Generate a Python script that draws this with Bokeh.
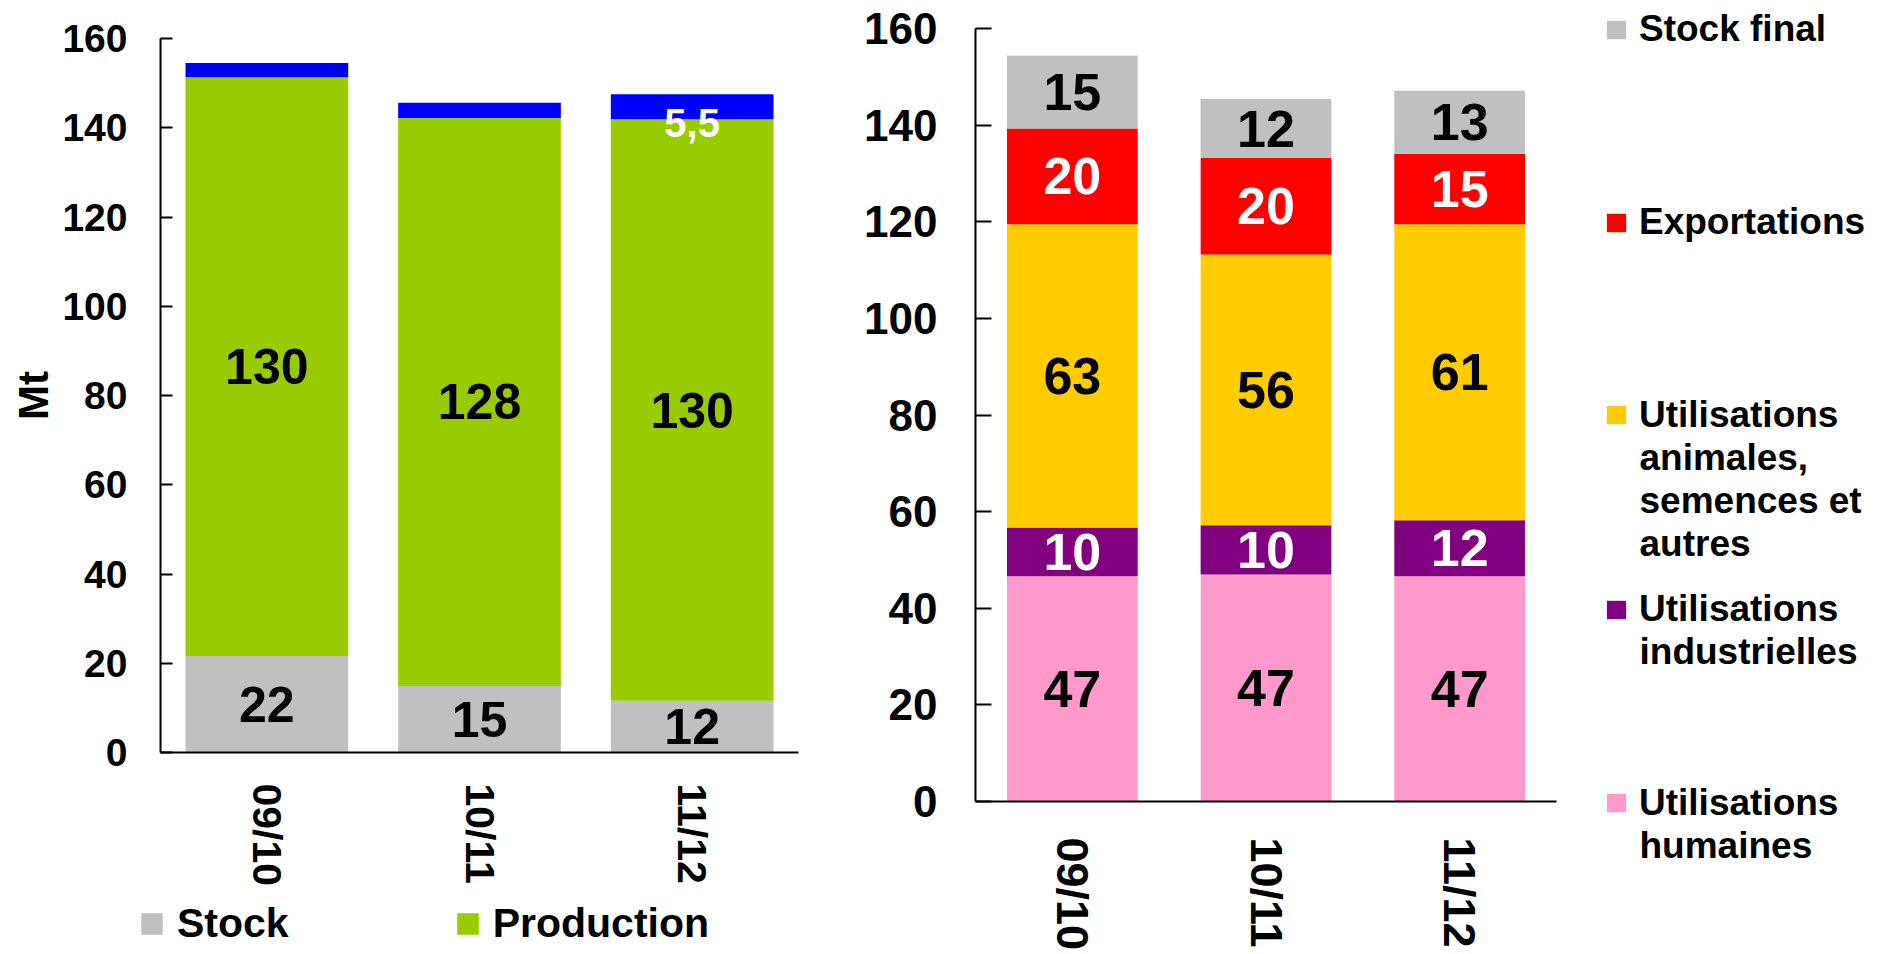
from bokeh.plotting import figure
from bokeh.models import (ColumnDataSource, Legend, LegendItem, Range1d,
                          LabelSet, Label, FixedTicker, LinearAxis)
from bokeh.core.properties import value
from bokeh.embed import file_html
from bokeh.resources import INLINE

FONT = "Liberation Sans"

# ---------------- data ----------------
categories = ["09/10", "10/11", "11/12"]
y_ticks = [0, 20, 40, 60, 80, 100, 120, 140, 160]

# left chart (ressources)
stock = [21.6, 14.9, 11.6]
production = [129.7, 127.3, 130.3]
imports = [3.2, 3.4, 5.6]
stock_labels = ["22", "15", "12"]
production_labels = ["130", "128", "130"]
imports_labels = ["", "", "5,5"]

# right chart (emplois)
humaines = [46.6, 47.0, 46.6]
industrielles = [10.1, 10.2, 11.6]
animales = [62.8, 56.0, 61.3]
exportations = [19.8, 20.0, 14.6]
stock_final = [15.1, 12.2, 13.0]
humaines_labels = ["47", "47", "47"]
industrielles_labels = ["10", "10", "12"]
animales_labels = ["63", "56", "61"]
exportations_labels = ["20", "20", "15"]
stock_final_labels = ["15", "12", "13"]

left_names = ["Stock", "Production", "Importations"]
# legend names of the right chart, one list of lines per series
right_names = [["Utilisations", "humaines"],
               ["Utilisations", "industrielles"],
               ["Utilisations", "animales,", "semences et", "autres"],
               ["Exportations"],
               ["Stock final"]]

C_GRAY = "#C0C0C0"
C_GREEN = "#99CC00"
C_BLUE = "#0000FF"
C_RED = "#FF0000"
C_YELLOW = "#FFCC00"
C_PURPLE = "#800080"
C_PINK = "#FF99CC"

# ---------------- layout (pixels) ----------------
W, H = 1888, 954
# screen pixel positions of the two panels' axes
L_X0, L_X1, L_YB, L_YT = 160, 798, 752, 38
R_X0, R_X1, R_YB, R_YT = 975, 1556, 801, 28
N = len(categories)
YMAX = y_ticks[-1]


def x_range(p0, p1):
    scale = (p1 - p0) / float(N)
    start = -p0 / scale
    return Range1d(start, start + W / scale)


def y_range(yb, yt):
    scale = (yb - yt) / float(YMAX)
    start = -(H - yb) / scale
    return Range1d(start, start + H / scale)


xpos = [i + 0.5 for i in range(N)]
x_overrides = {x: c for x, c in zip(xpos, categories)}


def mids(series_list):
    out = []
    base = [0.0] * N
    for s in series_list:
        out.append([b + v / 2.0 for b, v in zip(base, s)])
        base = [b + v for b, v in zip(base, s)]
    return out


p = figure(width=W, height=H, x_range=x_range(L_X0, L_X1),
           y_range=y_range(L_YB, L_YT), x_axis_type=None, y_axis_type=None,
           min_border=0, output_backend="svg", toolbar_location=None,
           title=None)
p.extra_x_ranges = {"rx": x_range(R_X0, R_X1)}
p.extra_y_ranges = {"ry": y_range(R_YB, R_YT)}
p.xgrid.visible = False
p.ygrid.visible = False
p.outline_line_color = None
p.background_fill_color = "white"
p.border_fill_color = "white"


def make_axes(xr, yr, tick_font, tick_len, y_standoff, x_font, x_standoff):
    ya = LinearAxis(x_range_name=xr, y_range_name=yr, fixed_location=0,
                    bounds=(0, YMAX), ticker=FixedTicker(ticks=y_ticks))
    ya.axis_line_color = "black"
    ya.axis_line_width = 2
    ya.major_tick_line_color = "black"
    ya.major_tick_line_width = 2
    ya.major_tick_in = tick_len
    ya.major_tick_out = 0
    ya.minor_tick_line_color = None
    ya.major_label_text_font = FONT
    ya.major_label_text_font_style = "bold"
    ya.major_label_text_font_size = tick_font
    ya.major_label_text_color = "black"
    ya.major_label_standoff = y_standoff
    p.add_layout(ya, "left")
    xa = LinearAxis(x_range_name=xr, y_range_name=yr, fixed_location=0,
                    bounds=(0, N), ticker=FixedTicker(ticks=xpos),
                    major_label_overrides=x_overrides)
    xa.axis_line_color = "black"
    xa.axis_line_width = 2
    xa.major_tick_line_color = None
    xa.major_tick_in = 0
    xa.major_tick_out = 0
    xa.minor_tick_line_color = None
    xa.major_label_orientation = "vertical"
    xa.major_label_text_font = FONT
    xa.major_label_text_font_style = "bold"
    xa.major_label_text_font_size = x_font
    xa.major_label_text_color = "black"
    xa.major_label_standoff = x_standoff
    p.add_layout(xa, "below")
    return ya, xa


def add_labels(src, ycol, tcol, color, size, xr="default", yr="default",
               y_offset=0):
    p.add_layout(LabelSet(x="x", y=ycol, text=tcol, source=src,
                          x_range_name=xr, y_range_name=yr,
                          text_align="center", text_baseline="middle",
                          text_font=value(FONT), text_font_style="bold",
                          text_font_size=size, text_color=color,
                          y_offset=y_offset))


# ---------------- left chart ----------------
lm = mids([stock, production, imports])
src1 = ColumnDataSource(dict(
    x=xpos, cat=categories, stock=stock, production=production,
    imports=imports, stock_mid=lm[0], production_mid=lm[1], imports_mid=lm[2],
    stock_label=stock_labels, production_label=production_labels,
    imports_label=imports_labels))

r1 = p.vbar_stack(["stock", "production", "imports"], x="x", width=0.765,
                  fill_color=[C_GRAY, C_GREEN, C_BLUE], line_color=None,
                  source=src1)
ya1, xa1 = make_axes("default", "default", "39px", 12, 33, "41px", 31)
ya1.axis_label = "Mt"
ya1.axis_label_text_font = FONT
ya1.axis_label_text_font_style = "bold"
ya1.axis_label_text_font_size = "42px"
ya1.axis_label_text_color = "black"
ya1.axis_label_standoff = 2

add_labels(src1, "stock_mid", "stock_label", "black", "50px")
add_labels(src1, "production_mid", "production_label", "black", "50px")
add_labels(src1, "imports_mid", "imports_label", "white", "40px",
           y_offset=-16)

leg1 = Legend(items=[LegendItem(label=left_names[0], renderers=[r1[0]]),
                     LegendItem(label=left_names[1], renderers=[r1[1]])],
              orientation="horizontal", location=(138, 7),
              glyph_width=27, glyph_height=27, label_standoff=12,
              spacing=165, padding=0, margin=0,
              label_text_font=FONT, label_text_font_style="bold",
              label_text_font_size="41px", label_text_color="black",
              border_line_color=None, background_fill_alpha=0)
p.add_layout(leg1, "center")

# ---------------- right chart ----------------
rm = mids([humaines, industrielles, animales, exportations, stock_final])
src2 = ColumnDataSource(dict(
    x=xpos, cat=categories, humaines=humaines, industrielles=industrielles,
    animales=animales, exportations=exportations, stock_final=stock_final,
    h_mid=rm[0], i_mid=rm[1], a_mid=rm[2], e_mid=rm[3], s_mid=rm[4],
    h_label=humaines_labels, i_label=industrielles_labels,
    a_label=animales_labels, e_label=exportations_labels,
    s_label=stock_final_labels))

r2 = p.vbar_stack(["humaines", "industrielles", "animales", "exportations",
                   "stock_final"], x="x", width=0.675,
                  fill_color=[C_PINK, C_PURPLE, C_YELLOW, C_RED, C_GRAY],
                  line_color=None, source=src2,
                  x_range_name="rx", y_range_name="ry")
make_axes("rx", "ry", "44px", 16, 38, "45px", 36)

for ycol, tcol, col in [("h_mid", "h_label", "black"),
                        ("i_mid", "i_label", "white"),
                        ("a_mid", "a_label", "black"),
                        ("e_mid", "e_label", "white"),
                        ("s_mid", "s_label", "black")]:
    add_labels(src2, ycol, tcol, col, "52px", xr="rx", yr="ry")

# one legend per entry; screen y (from top) of the centre of its first line
LEG_X, LEG_GLYPH_W, LEG_GLYPH_H, LEG_STANDOFF = 1604, 24, 23, 11
LEG_HALF, LINE_STEP = 22, 43
leg_order = [4, 3, 2, 1, 0]
leg_centres = [28, 221, 413.5, 608, 801.5]
for idx, c in zip(leg_order, leg_centres):
    lines = right_names[idx]
    lg = Legend(items=[LegendItem(label=lines[0], renderers=[r2[idx]])],
                location=(LEG_X, H - c - LEG_HALF),
                glyph_width=LEG_GLYPH_W, glyph_height=LEG_GLYPH_H,
                label_standoff=LEG_STANDOFF, padding=0, margin=0, spacing=0,
                label_text_font=FONT, label_text_font_style="bold",
                label_text_font_size="37px", label_text_color="black",
                border_line_color=None, background_fill_alpha=0)
    p.add_layout(lg, "center")
    for k, line in enumerate(lines[1:], start=1):
        p.add_layout(Label(x=LEG_X + LEG_GLYPH_W + LEG_STANDOFF,
                           y=H - (c + k * LINE_STEP),
                           x_units="screen", y_units="screen", text=line,
                           text_align="left", text_baseline="middle",
                           text_font=FONT, text_font_style="bold",
                           text_font_size="37px", text_color="black"))

open("out.html", "w").write(file_html(p, INLINE))
